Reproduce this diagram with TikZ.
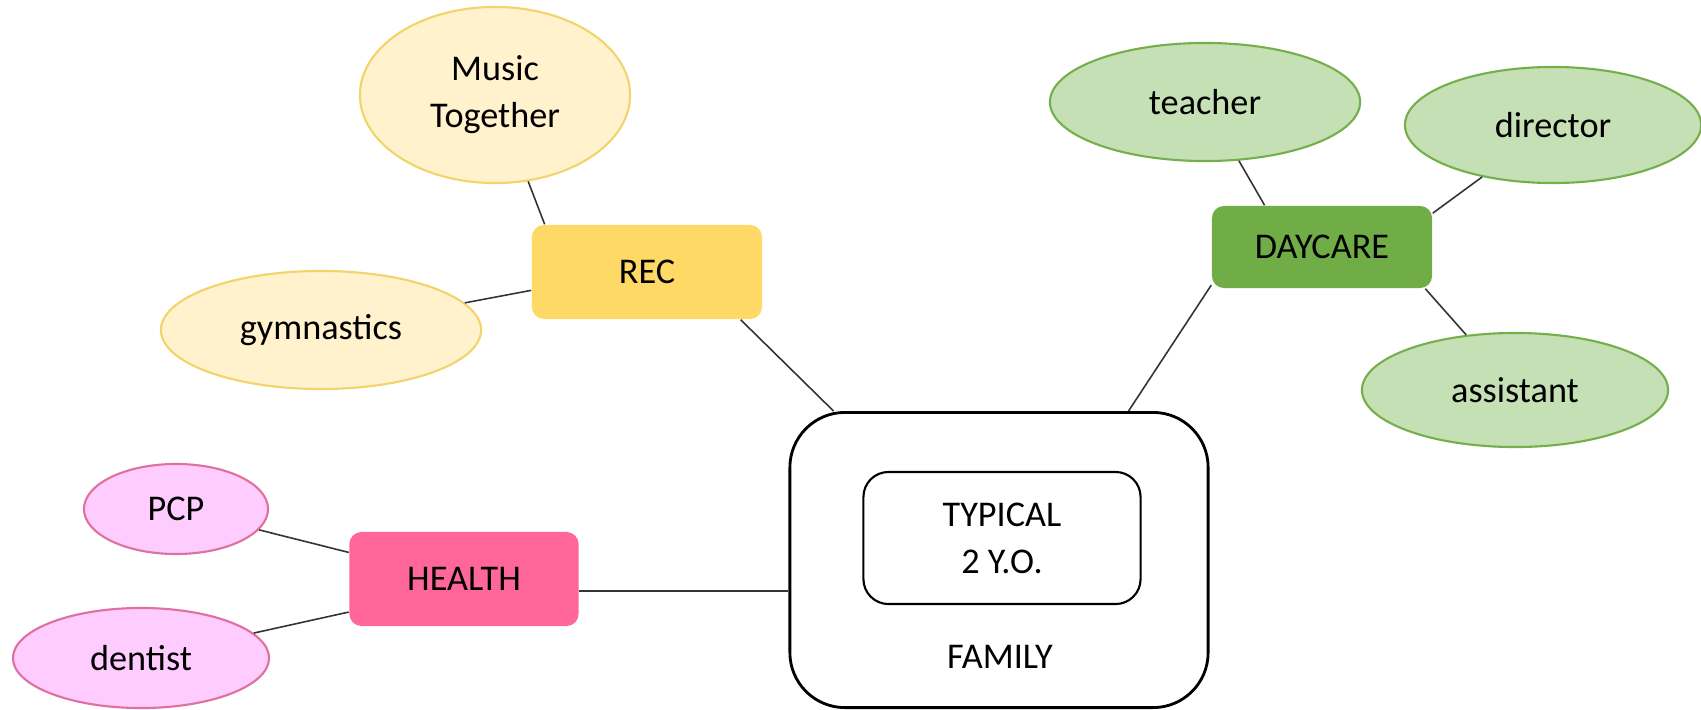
\documentclass[tikz,border=0pt]{standalone}
\usepackage{fontspec}
\setmainfont{Carlito}
\usetikzlibrary{shapes.geometric}
\begin{document}
\begin{tikzpicture}[x=0.01cm, y=-0.01cm,
  font=\fontsize{10.3}{13.4}\selectfont,
  hub/.style={rounded corners=0.12cm, minimum width=2.30cm, minimum height=0.94cm},
  leaf/.style={ellipse, line width=0.6pt, inner sep=0pt},
  link/.style={line width=0.45pt, black!80}]
\useasboundingbox (0,0) rectangle (1701,709);
% REC
\definecolor{hubcol}{HTML}{FFD966}
\definecolor{leafcol}{HTML}{FFF2CC}
\definecolor{edgecol}{HTML}{F3D36B}
\node[hub, fill=hubcol] (rec) at (647,272) {REC};
\node[leaf, fill=leafcol, draw=edgecol, minimum width=2.70cm, minimum height=1.76cm, align=center] (music) at (495,95) {Music\\Together};
\node[leaf, fill=leafcol, draw=edgecol, minimum width=3.20cm, minimum height=1.18cm] (gym) at (321,330) {gymnastics};
\draw[link] (music) -- (rec.155);
\draw[link] (gym) -- (rec.189);
% DAYCARE
\definecolor{hubcol2}{HTML}{70AD47}
\definecolor{leafcol2}{HTML}{C5E0B4}
\definecolor{edgecol2}{HTML}{74AF4C}
\node[hub, fill=hubcol2, minimum width=2.20cm, minimum height=0.82cm] (daycare) at (1322,247) {DAYCARE};
\node[leaf, fill=leafcol2, draw=edgecol2, minimum width=3.10cm, minimum height=1.18cm] (teacher) at (1205,102) {teacher};
\node[leaf, fill=leafcol2, draw=edgecol2, minimum width=2.96cm, minimum height=1.16cm] (director) at (1553,125) {director};
\node[leaf, fill=leafcol2, draw=edgecol2, minimum width=3.06cm, minimum height=1.14cm] (assistant) at (1515,390) {assistant};
\draw[link] (teacher) -- (daycare.144);
\draw[link] (director) -- (daycare.17);
\draw[link] (assistant) -- (daycare.-22);
% HEALTH
\definecolor{hubcol3}{HTML}{FF6699}
\definecolor{leafcol3}{HTML}{FFCCFF}
\definecolor{edgecol3}{HTML}{E0709E}
\node[hub, fill=hubcol3, minimum width=2.29cm] (health) at (464,579) {HEALTH};
\node[leaf, fill=leafcol3, draw=edgecol3, minimum width=1.84cm, minimum height=0.90cm] (pcp) at (176,509) {PCP};
\node[leaf, fill=leafcol3, draw=edgecol3, minimum width=2.56cm, minimum height=1.00cm] (dentist) at (141,658) {dentist};
\draw[link] (pcp) -- (health.167);
\draw[link] (dentist) -- (health.196);
% FAMILY
\node[draw, line width=0.8pt, rounded corners=0.55cm, minimum width=4.18cm, minimum height=2.95cm] (family) at (999,560) {};
\node[draw, line width=0.6pt, rounded corners=0.25cm, minimum width=2.77cm, minimum height=1.32cm, align=center] (child) at (1002,538) {TYPICAL\\2 Y.O.};
\node (famlabel) at (1000,657) {FAMILY};
\draw[link] (rec.-27) -- (family.138);
\draw[link] (daycare.199) -- (family.49);
\draw[link] (health.-6) -- (health.-6 -| family.west);
\end{tikzpicture}
\end{document}
